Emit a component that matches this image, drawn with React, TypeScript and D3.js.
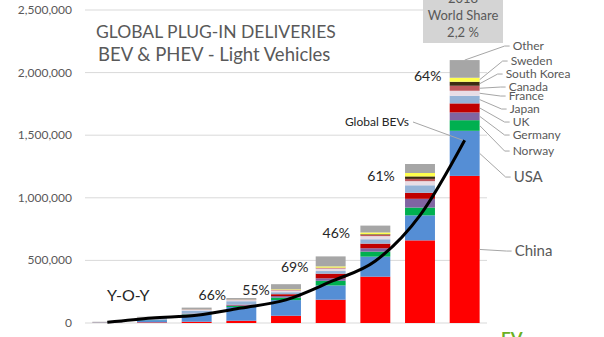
import React from 'react';
import * as d3 from 'd3';

// ---- data (thousands of vehicles) ----
const years = ['2010', '2011', '2012', '2013', '2014', '2015', '2016', '2017', '2018'];
const seriesNames = ['China', 'USA', 'Norway', 'Germany', 'UK', 'Japan', 'France', 'Canada', 'South Korea', 'Sweden', 'Other'];
const china = [1.4, 5, 10, 18, 58, 186, 370, 660, 1175];
const usa = [1, 18, 55, 110, 125, 114, 160, 200, 360];
const norway = [0.4, 2, 4, 8, 20, 37, 40, 62, 85];
const germany = [0.1, 2, 3, 6, 12, 20, 27, 70, 62];
const uk = [0.2, 1, 2, 4, 15, 37, 37, 48, 72];
const japan = [2.5, 13, 25, 28, 16, 21, 35, 60, 61];
const france = [0.2, 2.5, 7, 9, 14, 20, 25, 33, 40];
const canada = [0, 0.5, 2, 3, 5, 5, 10, 18, 40];
const korea = [0, 0.3, 0.5, 0.5, 1, 2, 5, 20, 32];
const sweden = [0, 0.2, 0.5, 1, 4, 10, 14, 27, 32];
const other = [4, 5, 14, 12, 40, 80, 55, 72, 141];
const globalBEVs = [5, 40, 62, 120, 185, 330, 495, 860, 1460];
const yoyYears = ['2013', '2014', '2015', '2016', '2017', '2018'];
const yoyLabels = ['66%', '55%', '69%', '46%', '61%', '64%'];
const yTicks = [0, 500000, 1000000, 1500000, 2000000, 2500000];

const colors = ['#ff0000', '#558ed5', '#00b050', '#8064a2', '#c00000', '#95b3d7', '#e8dde6', '#c0585c', '#3d2b12', '#ffff4d', '#a6a6a6'];
// legend label layout (baseline y, x offset from bar right edge, font size)
const legendY = [256, 182, 155, 139, 126, 113, 100, 91, 78, 65, 50];
const legendDx = [35, 34, 33, 33, 33, 30, 29, 29, 26, 31, 33];
const legendFs = [15, 15, 12, 12, 12, 12, 12, 12, 12, 12, 12];
// YOY label layout offsets (relative to bar centre / bar top)
const yoyDx = [-29, -30, -36, -39, -39, -37];
const yoyDy = [2, 11, 16, 12, 17, 21];

const W = 604, H = 337;
const FONT = 'Lato, "Open Sans", sans-serif';
const GRAY = '#595959';

export default function App() {
  const allSeries = [china, usa, norway, germany, uk, japan, france, canada, korea, sweden, other];
  const rows = years.map((yr, i) => {
    const r: any = { year: yr };
    seriesNames.forEach((n, k) => (r[n] = allSeries[k][i] * 1000));
    return r;
  });
  const stacked = d3.stack<any>().keys(seriesNames)(rows);

  const x = d3.scaleBand().domain(years).range([85, 487]).paddingInner(0.33).paddingOuter(0.165);
  const y = d3.scaleLinear().domain([0, 2500000]).range([323, 10]);
  const bw = x.bandwidth();
  const cx = (yr: string) => (x(yr) as number) + bw / 2;

  const line = d3
    .line<number>()
    .x((_, i) => cx(years[i]))
    .y((d) => y(d * 1000))
    .curve(d3.curveMonotoneX);

  const totals = rows.map((r) => seriesNames.reduce((s, n) => s + r[n], 0));
  const last = years[years.length - 1];
  const barRight = (x(last) as number) + bw;

  return (
    <svg width={W} height={H} style={{ position: 'absolute', left: 0, top: 0, background: '#fff' }} fontFamily={FONT}>
      {/* gridlines */}
      {yTicks.map((t) => (
        <g key={t}>
          <line x1={85} x2={487} y1={y(t)} y2={y(t)} stroke="#d9d9d9" strokeWidth={1} />
          <text x={72} y={y(t) + 4} textAnchor="end" fontSize={12} fill={GRAY}>
            {d3.format(',')(t)}
          </text>
        </g>
      ))}

      {/* bars */}
      {stacked.map((s, k) => (
        <g key={s.key} fill={colors[k]}>
          {s.map((d, i) => (
            <rect key={i} x={x(years[i])} width={bw} y={y(d[1])} height={Math.max(0, y(d[0]) - y(d[1]))} />
          ))}
        </g>
      ))}

      {/* Global BEVs line */}
      <path d={line(globalBEVs) || ''} fill="none" stroke="#000" strokeWidth={3} />

      {/* YOY labels */}
      {yoyYears.map((yr, i) => {
        const idx = years.indexOf(yr);
        return (
          <text key={yr} x={cx(yr) + yoyDx[i]} y={y(totals[idx]) + yoyDy[i]} textAnchor="middle" fontSize={14} fill="#262626">
            {yoyLabels[i]}
          </text>
        );
      })}

      {/* legend labels with leaders */}
      {stacked.map((s, k) => {
        const d = s[s.length - 1];
        const mid = (y(d[0]) + y(d[1])) / 2;
        const lx = barRight + legendDx[k];
        const ly = legendY[k] - legendFs[k] * 0.33;
        const isTop = k === stacked.length - 1;
        const sx = isTop ? cx(last) : barRight;
        const sy = isTop ? y(d[1]) : mid;
        return (
          <g key={s.key}>
            <polyline points={`${sx},${sy} ${lx - 8},${ly} ${lx - 3},${ly}`} fill="none" stroke="#a6a6a6" strokeWidth={1} />
            <text x={lx} y={legendY[k]} fontSize={legendFs[k]} fill={GRAY}>
              {s.key}
            </text>
          </g>
        );
      })}

      {/* Global BEVs label */}
      <polyline
        points={`${409 + 4},122 ${cx(last) - 2},${y(globalBEVs[globalBEVs.length - 1] * 1000)}`}
        fill="none"
        stroke="#a6a6a6"
        strokeWidth={1}
      />
      <text x={409} y={126} textAnchor="end" fontSize={12} fill="#262626">
        Global BEVs
      </text>

      {/* title */}
      <text x={96} y={38} fontSize={17.5} fill={GRAY}>
        GLOBAL PLUG-IN DELIVERIES
      </text>
      <text x={98} y={61} fontSize={18.5} fill={GRAY}>
        BEV &amp; PHEV - Light Vehicles
      </text>

      {/* Y-O-Y */}
      <text x={107} y={301} fontSize={16} fill="#262626">
        Y-O-Y
      </text>

      {/* world share box */}
      <rect x={423} y={0} width={80} height={43} fill="#d4d4d4" />
      <text x={463} y={3} textAnchor="middle" fontSize={13} fill={GRAY}>
        2018
      </text>
      <text x={463} y={20} textAnchor="middle" fontSize={13} fill={GRAY}>
        World Share
      </text>
      <text x={463} y={37} textAnchor="middle" fontSize={13} fill={GRAY}>
        2,2 %
      </text>

      {/* EV mark */}
      <text x={501} y={344} fontSize={17} fontWeight="bold" fill="#6ab023">
        EV
      </text>
    </svg>
  );
}
